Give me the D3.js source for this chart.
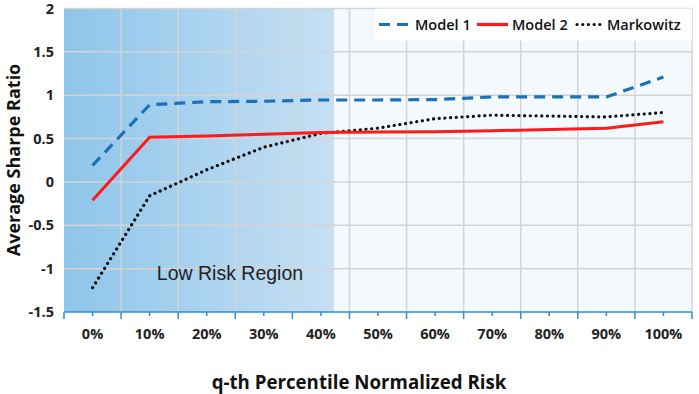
<!DOCTYPE html>
<html>
<head>
<meta charset="utf-8">
<script src="https://cdn.jsdelivr.net/npm/d3@7"></script>
<style>
  body { margin: 0; background: #fff; }
  text { font-family: "Open Sans", sans-serif; }
</style>
</head>
<body>
<div id="chart"></div>
<script>
// data
const categories = ["0%", "10%", "20%", "30%", "40%", "50%", "60%", "70%", "80%", "90%", "100%"];
const model1 = [0.19, 0.89, 0.925, 0.93, 0.945, 0.945, 0.95, 0.98, 0.98, 0.98, 1.21];
const model2 = [-0.21, 0.515, 0.53, 0.55, 0.57, 0.575, 0.58, 0.59, 0.605, 0.62, 0.695];
const markowitz = [-1.22, -0.16, 0.14, 0.40, 0.56, 0.62, 0.73, 0.77, 0.76, 0.75, 0.80];
const yTicks = [-1.5, -1, -0.5, 0, 0.5, 1, 1.5, 2];
const lowRiskEnd = 4.73; // in category units, where the shaded region stops

const width = 699, height = 394;
const plotL = 64, plotR = 692, plotT = 8.5, plotB = 312;

const svg = d3.select("#chart").append("svg")
  .attr("width", width)
  .attr("height", height);

// band scale for the category axis, linear scale for the values
const x = d3.scaleBand().domain(categories).range([plotL, plotR]).padding(0);
const y = d3.scaleLinear().domain([-1.5, 2]).range([plotB, plotT]);
const xc = d => x(d) + x.bandwidth() / 2;

// backgrounds
const defs = svg.append("defs");
const grad = defs.append("linearGradient").attr("id", "lowrisk")
  .attr("x1", "0%").attr("x2", "100%").attr("y1", "0%").attr("y2", "0%");
grad.append("stop").attr("offset", "0%").attr("stop-color", "#8ec5ea");
grad.append("stop").attr("offset", "100%").attr("stop-color", "#c6e0f3");

const regionX = plotL + lowRiskEnd * x.bandwidth();
svg.append("rect")
  .attr("x", plotL).attr("y", plotT)
  .attr("width", plotR - plotL).attr("height", plotB - plotT)
  .attr("fill", "#f4f9fe");
svg.append("rect")
  .attr("x", plotL).attr("y", plotT)
  .attr("width", regionX - plotL).attr("height", plotB - plotT)
  .attr("fill", "url(#lowrisk)");

// gridlines
const grid = svg.append("g");
grid.selectAll("line.h")
  .data(yTicks.filter(d => d > -1.5))
  .enter().append("line")
  .attr("x1", plotL).attr("x2", plotR)
  .attr("y1", d => y(d)).attr("y2", d => y(d))
  .attr("stroke", "#d4d4d4").attr("stroke-width", 1.5);
grid.selectAll("line.v")
  .data(d3.range(1, categories.length + 1))
  .enter().append("line")
  .attr("x1", i => plotL + i * x.bandwidth())
  .attr("x2", i => plotL + i * x.bandwidth())
  .attr("y1", plotT).attr("y2", plotB)
  .attr("stroke", "#d4d4d4").attr("stroke-width", 1.5);

svg.append("text")
  .attr("x", 230).attr("y", 280)
  .attr("text-anchor", "middle")
  .style("font-family", "Arial, 'Liberation Sans', sans-serif")
  .style("font-size", "19.5px")
  .attr("fill", "#222")
  .text("Low Risk Region");

// lines
const line = d3.line().x((d, i) => xc(categories[i])).y(d => y(d));

svg.append("path").datum(markowitz)
  .attr("d", line).attr("fill", "none")
  .attr("stroke", "#111").attr("stroke-width", 3.2)
  .attr("stroke-linecap", "round")
  .attr("stroke-dasharray", "0.1 5.6");

svg.append("path").datum(model2)
  .attr("d", line).attr("fill", "none")
  .attr("stroke", "#ff1a1a").attr("stroke-width", 3);

svg.append("path").datum(model1)
  .attr("d", line).attr("fill", "none")
  .attr("stroke", "#1b70b6").attr("stroke-width", 3.2)
  .attr("stroke-dasharray", "11 7");

// x axis
const xAxis = svg.append("g").attr("transform", `translate(0,${plotB})`);
xAxis.append("line")
  .attr("x1", plotL).attr("x2", plotR)
  .attr("stroke", "#2b8fd6").attr("stroke-width", 1.5);
xAxis.selectAll("line.major")
  .data(d3.range(categories.length + 1))
  .enter().append("line")
  .attr("x1", i => plotL + i * x.bandwidth())
  .attr("x2", i => plotL + i * x.bandwidth())
  .attr("y1", 0).attr("y2", 7)
  .attr("stroke", "#2b8fd6").attr("stroke-width", 1.5);
xAxis.selectAll("line.minor")
  .data(categories)
  .enter().append("line")
  .attr("x1", d => xc(d)).attr("x2", d => xc(d))
  .attr("y1", 0).attr("y2", 4)
  .attr("stroke", "#2b8fd6").attr("stroke-width", 1.5);
xAxis.selectAll("text")
  .data(categories)
  .enter().append("text")
  .attr("x", d => xc(d)).attr("y", 27)
  .attr("text-anchor", "middle")
  .style("font-size", "14.5px").style("font-weight", "bold")
  .attr("fill", "#222")
  .text(d => d);

// y axis labels
svg.append("g").selectAll("text")
  .data(yTicks)
  .enter().append("text")
  .attr("x", 54).attr("y", d => y(d) + 5)
  .attr("text-anchor", "end")
  .style("font-size", "14.5px").style("font-weight", "bold")
  .attr("fill", "#222")
  .text(d => d);

// axis titles
svg.append("text")
  .attr("x", 359).attr("y", 389)
  .attr("text-anchor", "middle")
  .style("font-size", "18.7px").style("font-weight", "bold")
  .attr("fill", "#111")
  .text("q-th Percentile Normalized Risk");

svg.append("text")
  .attr("transform", "translate(20,160) rotate(-90)")
  .attr("text-anchor", "middle")
  .style("font-size", "18px").style("font-weight", "bold")
  .attr("fill", "#111")
  .text("Average Sharpe Ratio");

// legend
const legendItems = [
  { name: "Model 1", x: 379, color: "#1b70b6", dash: "11 7", cap: "butt", w: 32 },
  { name: "Model 2", x: 477, color: "#ff1a1a", dash: null, cap: "butt", w: 31 },
  { name: "Markowitz", x: 577, color: "#111", dash: "0.1 5.6", cap: "round", w: 26 }
];
const legend = svg.append("g");
legend.append("rect")
  .attr("x", 375).attr("y", 8.5)
  .attr("width", plotR - 375).attr("height", 32)
  .attr("fill", "#fff");
legendItems.forEach(it => {
  legend.append("line")
    .attr("x1", it.x).attr("x2", it.x + it.w)
    .attr("y1", 24.5).attr("y2", 24.5)
    .attr("stroke", it.color).attr("stroke-width", 3.2)
    .attr("stroke-linecap", it.cap)
    .attr("stroke-dasharray", it.dash);
  legend.append("text")
    .attr("x", it.x + it.w + 4).attr("y", 30)
    .style("font-size", "14.5px").style("font-weight", "600")
    .attr("fill", "#111")
    .text(it.name);
});
</script>
</body>
</html>
